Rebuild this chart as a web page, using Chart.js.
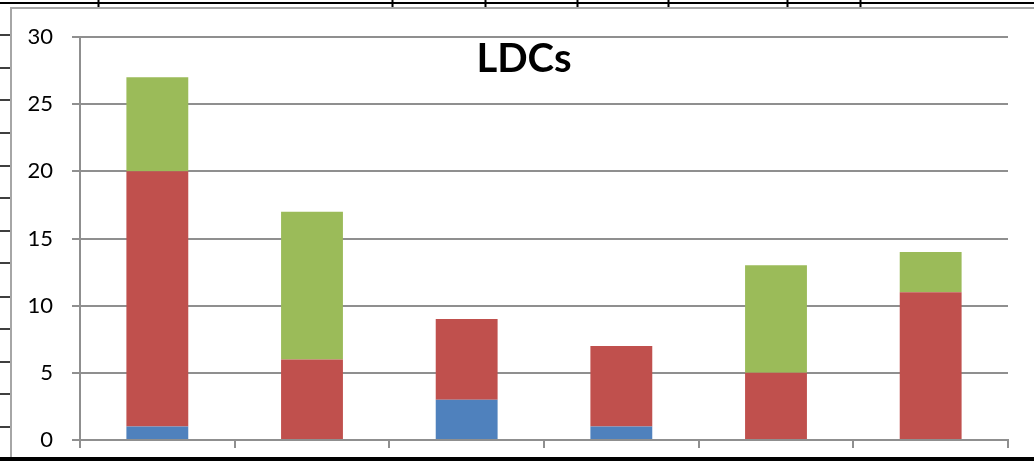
<!DOCTYPE html>
<html>
<head>
<meta charset="utf-8">
<script src="https://cdn.jsdelivr.net/npm/chart.js@4/dist/chart.umd.min.js"></script>
<style>
  html, body { margin: 0; padding: 0; background: #fff; }
  #wrap { width: 1034px; height: 461px; position: relative; }
</style>
</head>
<body>
<div id="wrap"><canvas id="ldcChart" width="1034" height="461"></canvas></div>
<script>
// DATA
const categories = ["1", "2", "3", "4", "5", "6"];
const seriesNames = ["Series 1", "Series 2", "Series 3"];
const blueValues = [1, 0, 3, 1, 0, 0];
const redValues = [19, 6, 6, 6, 5, 11];
const greenValues = [7, 11, 0, 0, 8, 3];
const yTicks = [0, 5, 10, 15, 20, 25, 30];
const chartTitle = "LDCs";

// spreadsheet cell lines around the chart
const topCellLines = [98, 392, 485, 577, 668, 787, 860];
const leftCellLines = [35, 68, 100, 133, 166, 198, 231, 263, 297, 329, 362, 394, 427];

const sheetPlugin = {
    id: "sheet",
    beforeDraw(chart) {
        const c = chart.ctx;
        c.save();
        c.fillStyle = "#fff";
        c.fillRect(0, 0, chart.width, chart.height);
        c.strokeStyle = "#000";
        c.lineWidth = 2;
        c.beginPath();
        c.moveTo(0, 3); c.lineTo(chart.width, 3);
        topCellLines.forEach(x => { c.moveTo(x + 0.5, 0); c.lineTo(x + 0.5, 7); });
        c.stroke();
        c.lineWidth = 1.5;
        c.beginPath();
        leftCellLines.forEach(y => { c.moveTo(0, y); c.lineTo(11, y); });
        c.stroke();
        // chart frame
        c.strokeStyle = "#a6a6a6";
        c.lineWidth = 2;
        c.beginPath();
        c.moveTo(11, 460); c.lineTo(11, 8); c.lineTo(chart.width, 8);
        c.stroke();
        c.restore();
    },
    afterDraw(chart) {
        const c = chart.ctx;
        c.save();
        c.fillStyle = "#000";
        c.fillRect(0, 457, chart.width, 4);
        c.font = "bold 40px Lato";
        c.textAlign = "center";
        c.textBaseline = "alphabetic";
        c.fillText(chartTitle, 524, 72);
        c.restore();
    }
};

const gridGray = "#8f8f8f";

new Chart(document.getElementById("ldcChart").getContext("2d"), {
    type: "bar",
    data: {
        labels: categories,
        datasets: [
            { label: seriesNames[0], data: blueValues, backgroundColor: "#4f81bd" },
            { label: seriesNames[1], data: redValues, backgroundColor: "#c0504d" },
            { label: seriesNames[2], data: greenValues, backgroundColor: "#9bbb59" }
        ]
    },
    options: {
        responsive: false,
        animation: false,
        layout: { padding: { left: 0, right: 26, top: 37, bottom: 0 } },
        datasets: { bar: { categoryPercentage: 1, barPercentage: 0.4, borderWidth: 0 } },
        plugins: {
            legend: { display: false },
            title: { display: false },
            tooltip: { enabled: false }
        },
        scales: {
            x: {
                stacked: true,
                ticks: { display: false },
                grid: { drawOnChartArea: false, offset: true, color: gridGray, lineWidth: 2, tickLength: 8 },
                border: { color: gridGray, width: 2 },
                afterFit: s => { s.height = 21; }
            },
            y: {
                stacked: true,
                min: 0,
                max: 30,
                afterBuildTicks: s => { s.ticks = yTicks.map(v => ({ value: v })); },
                ticks: { padding: 19, color: "#000", font: { family: "Lato", size: 22 } },
                grid: { color: gridGray, lineWidth: 2, tickLength: 8 },
                border: { color: gridGray, width: 2 },
                afterFit: s => { s.width = 80; s.paddingTop = 0; s.paddingBottom = 0; }
            }
        }
    },
    plugins: [sheetPlugin]
});
</script>
</body>
</html>
